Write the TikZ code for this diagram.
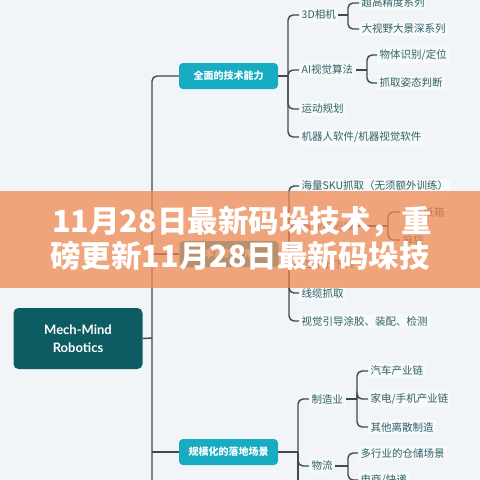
\documentclass[tikz,border=0pt]{standalone}
\usepackage{fontspec}
\newfontfamily\cjk{Noto Sans CJK SC}
\newfontfamily\latofont{Lato}
\definecolor{bgc}{RGB}{242,245,248}
\definecolor{linec}{RGB}{62,74,82}
\definecolor{leafc}{RGB}{45,98,102}
\definecolor{cyanc}{RGB}{24,172,194}
\definecolor{rootc}{RGB}{13,92,97}
\definecolor{bannerc}{RGB}{239,136,80}
\begin{document}
\begin{tikzpicture}[x=1pt,y=-1pt,
  conn/.style={draw=linec,line width=1.4pt,rounded corners=5pt},
  leaf/.style={anchor=west,inner sep=2.5pt,fill=white,fill opacity=0.45,text opacity=1,text=leafc,font=\cjk\fontsize{10.5}{12}\selectfont},
  catbox/.style={fill=cyanc,rounded corners=4pt,minimum width=99pt,minimum height=26pt,inner sep=0pt,text=white,font=\cjk\bfseries\fontsize{10}{12}\selectfont},
  rootbox/.style={fill=rootc,rounded corners=5pt,minimum width=129pt,minimum height=61pt,inner sep=0pt,align=center,text=white,font=\latofont\bfseries\fontsize{13}{18}\selectfont},
  titletext/.style={text=white,inner sep=0pt,font=\cjk\bfseries\fontsize{30.5}{34}\selectfont}]
\useasboundingbox (0,0) rectangle (480,480);
\fill[bgc] (0,0) rectangle (480,480);
\begin{scope}
\clip (0,0) rectangle (480,480);
% root and main spine
\node[rootbox] (root) at (78,338.5) {Mech-Mind\\Robotics};
\node[catbox] (n1) at (228.5,76) {全面的技术能力};
\node[catbox] (n2) at (229,254) {丰富的应用};
\node[catbox] (n3) at (228.5,452) {规模化的落地场景};
\coordinate (sp0) at (152,338);
\coordinate (spEnd) at (152,500);
\draw[conn] (root.east) -- (sp0);
\draw[conn] (n1.west) -| (spEnd);
\draw[conn] (n2.west) -- (n2.west -| sp0);
\draw[conn] (n3.west) -- (n3.west -| sp0);
% section 1
\coordinate (s1) at (288,76);
\node[leaf] (c11) at (299,15) {3D相机};
\node[leaf] (c12) at (299,70) {AI视觉算法};
\node[leaf] (c13) at (299,109) {运动规划};
\node[leaf] (c14) at (299,137) {机器人软件/机器视觉软件};
\node[leaf] (c111) at (359,3) {超高精度系列};
\node[leaf] (c112) at (359,29) {大视野大景深系列};
\node[leaf] (c121) at (377,55) {物体识别/定位};
\node[leaf] (c122) at (377,83) {抓取姿态判断};
\coordinate (b11) at (348,15);
\coordinate (b12) at (367,70);
\draw[conn] (n1.east) -- (s1);
\foreach \c in {c11,c12,c13,c14} \draw[conn] (s1) |- (\c.west);
\draw[conn] (c11.east) -- (b11);
\foreach \c in {c111,c112} \draw[conn] (b11) |- (\c.west);
\draw[conn] (c12.east) -- (b12);
\foreach \c in {c121,c122} \draw[conn] (b12) |- (\c.west);
% section 2
\coordinate (s2) at (289,254);
\node[leaf] (c21) at (299,186) {海量SKU抓取（无须额外训练）};
\node[leaf] (c22) at (299,226) {智能拆码垛};
\node[leaf] (c23) at (299,265) {工件上下料};
\node[leaf] (c24) at (299,293) {线缆抓取};
\node[leaf] (c25) at (299,321) {视觉引导涂胶、装配、检测};
\node[leaf] (c221) at (400,212) {各类纸箱};
\node[leaf] (c222) at (400,240) {麻袋};
\coordinate (b22) at (388,226);
\draw[conn] (n2.east) -- (s2);
\foreach \c in {c21,c22,c23,c24,c25} \draw[conn] (s2) |- (\c.west);
\draw[conn] (c22.east) -- (b22);
\foreach \c in {c221,c222} \draw[conn] (b22) |- (\c.west);
% section 3
\coordinate (s3) at (298,452);
\coordinate (s3e) at (298,500);
\node[leaf] (c31) at (309,399) {制造业};
\node[leaf] (c32) at (309,466) {物流};
\node[leaf] (c311) at (368,371) {汽车产业链};
\node[leaf] (c312) at (368,399) {家电/手机产业链};
\node[leaf] (c313) at (368,427) {其他离散制造};
\node[leaf] (c321) at (358,453) {多行业的仓储场景};
\node[leaf] (c322) at (358,480) {电商/快递};
\coordinate (b31) at (357,399);
\coordinate (b32) at (348,466);
\draw[conn] (n3.east) -- (s3);
\draw[conn] (s3) -- (s3e);
\foreach \c in {c31,c32} \draw[conn] (s3) |- (\c.west);
\draw[conn] (c31.east) -- (b31);
\foreach \c in {c311,c312,c313} \draw[conn] (b31) |- (\c.west);
\draw[conn] (c32.east) -- (b32);
\foreach \c in {c321,c322} \draw[conn] (b32) |- (\c.west);
% banner
\fill[bannerc,opacity=0.74] (0,191) rectangle (480,288);
\node[titletext] (t1) at (242,222) {11月28日最新码垛技术，重};
\node[titletext] (t2) at (240,256) {磅更新11月28日最新码垛技};
\end{scope}
\end{tikzpicture}
\end{document}
